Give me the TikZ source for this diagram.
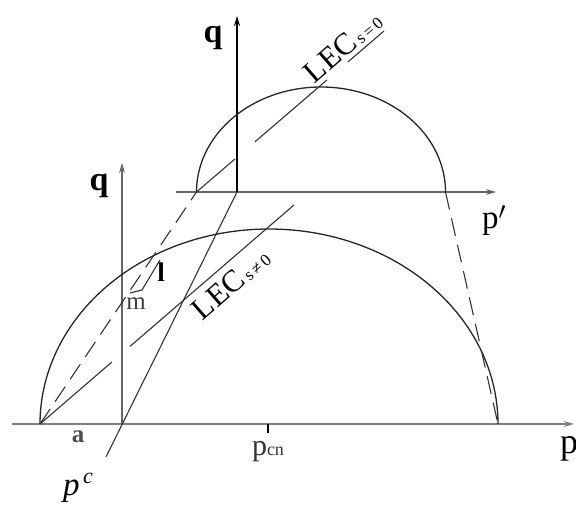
\documentclass[tikz,border=0pt]{standalone}
\usepackage{fontspec}
\setmainfont{Liberation Serif}
\usetikzlibrary{calc,arrows.meta}
\begin{document}
\begin{tikzpicture}[x=1pt,y=-1pt,
  mainaxis/.style={draw=black!50, line width=2.2pt},
  thinaxis/.style={draw=black!60, line width=1.2pt},
  boldaxis/.style={draw=black, line width=2.6pt},
  curve/.style={draw=black!85, line width=1.3pt},
  lec/.style={draw=black!80, line width=1.1pt},
  dashline/.style={draw=black!80, line width=1.1pt, dash pattern=on 18pt off 9pt},
  lbl/.style={font=\fontsize{26}{26}\selectfont, inner sep=0pt},
  qlbl/.style={font=\fontsize{34}{34}\selectfont\bfseries, inner sep=0pt},
  leclbl/.style={font=\fontsize{31}{31}\selectfont, inner sep=0pt, rotate=41},
  arr/.style={-{Stealth[length=10pt,width=6pt]}}]
\useasboundingbox[fill=white] (0,0) rectangle (576,510);
% key points
\coordinate (A) at (40,424);
\coordinate (B) at (498,424);
\coordinate (O1) at (122,424);
\coordinate (O2) at (237,192);
\coordinate (U1) at (196.5,192);
\coordinate (U2) at (445.5,192);
\coordinate (PC) at (106,457);
\coordinate (Lo) at (294,205);
\coordinate (Up) at (384,31);
\coordinate (XL) at (12,424);
\coordinate (XR) at (574,424);
\coordinate (PL) at (176,192);
\coordinate (PR) at (496,192);
\coordinate (Q1) at (122,163);
\coordinate (Q2) at (237,16);
\coordinate (T) at (268,433);
\coordinate (T0) at (268,424);
\coordinate (l1) at (160,260);
\coordinate (l2) at (142,290);
\coordinate (l3) at (130,293);
% axes
\draw[mainaxis,arr] (XL) -- (XR);
\draw[thinaxis,arr] (PL) -- (PR);
\draw[thinaxis,arr] (O1) -- (Q1);
\draw[boldaxis,arr] (O2) -- (Q2);
\draw[line width=1.4pt] (T0) -- (T);
% curves
\draw[curve] plot[smooth, domain=180:0, samples=90] ({269+229*cos(\x)},{424-195*sin(\x)});
\draw[curve] plot[smooth, domain=180:0, samples=90] ({321+124.5*cos(\x)},{192-105*sin(\x)});
% p^c line
\draw[lec] (PC) -- (O2);
% dashed connectors
\draw[dashline] (A) -- (U1);
\draw[dashline] (U2) -- (B);
% LEC lines
\draw[lec] (A) -- ($(A)!0.283!(Lo)$);
\draw[lec] ($(A)!0.354!(Lo)$) -- (Lo);
\draw[lec] (U1) -- ($(U1)!0.205!(Up)$);
\draw[lec] ($(U1)!0.312!(Up)$) -- ($(U1)!0.696!(Up)$);
\draw[lec] ($(U1)!0.808!(Up)$) -- (Up);
% l - m mark
\draw[lec] (l1) -- (l2) -- (l3);
% labels
\node[qlbl] (qu) at (213,38) {q};
\node[qlbl] (ql) at (99,186) {q};
\node[lbl, font=\fontsize{33}{33}\selectfont] (pp) at (494,221) {p$'$};
\node[lbl, font=\fontsize{36}{36}\selectfont] (p) at (569,449) {p};
\node[lbl, text=black!70, font=\fontsize{25}{25}\selectfont\bfseries] (a) at (78,437) {a};
\node[lbl, text=black!80, font=\fontsize{30}{30}\selectfont] (pcn) at (268,452) {p{\fontsize{18}{18}\selectfont cn}};
\node[lbl, font=\fontsize{33}{33}\selectfont\itshape] (pc) at (78,488) {p\raisebox{12pt}{\fontsize{22}{22}\selectfont\,c}};
\node[lbl, font=\fontsize{27}{27}\selectfont\bfseries] (l) at (161,272) {l};
\node[lbl, text=black!75, font=\fontsize{25}{25}\selectfont] (m) at (136,304) {m};
\node[leclbl] (lec0) at (343,47) {LEC\raisebox{-1pt}{\fontsize{17}{17}\selectfont\,s\,=\,0}};
\node[leclbl] (lec1) at (231,284) {LEC\raisebox{-1pt}{\fontsize{17}{17}\selectfont\,s\,≠\,0}};
\end{tikzpicture}
\end{document}
